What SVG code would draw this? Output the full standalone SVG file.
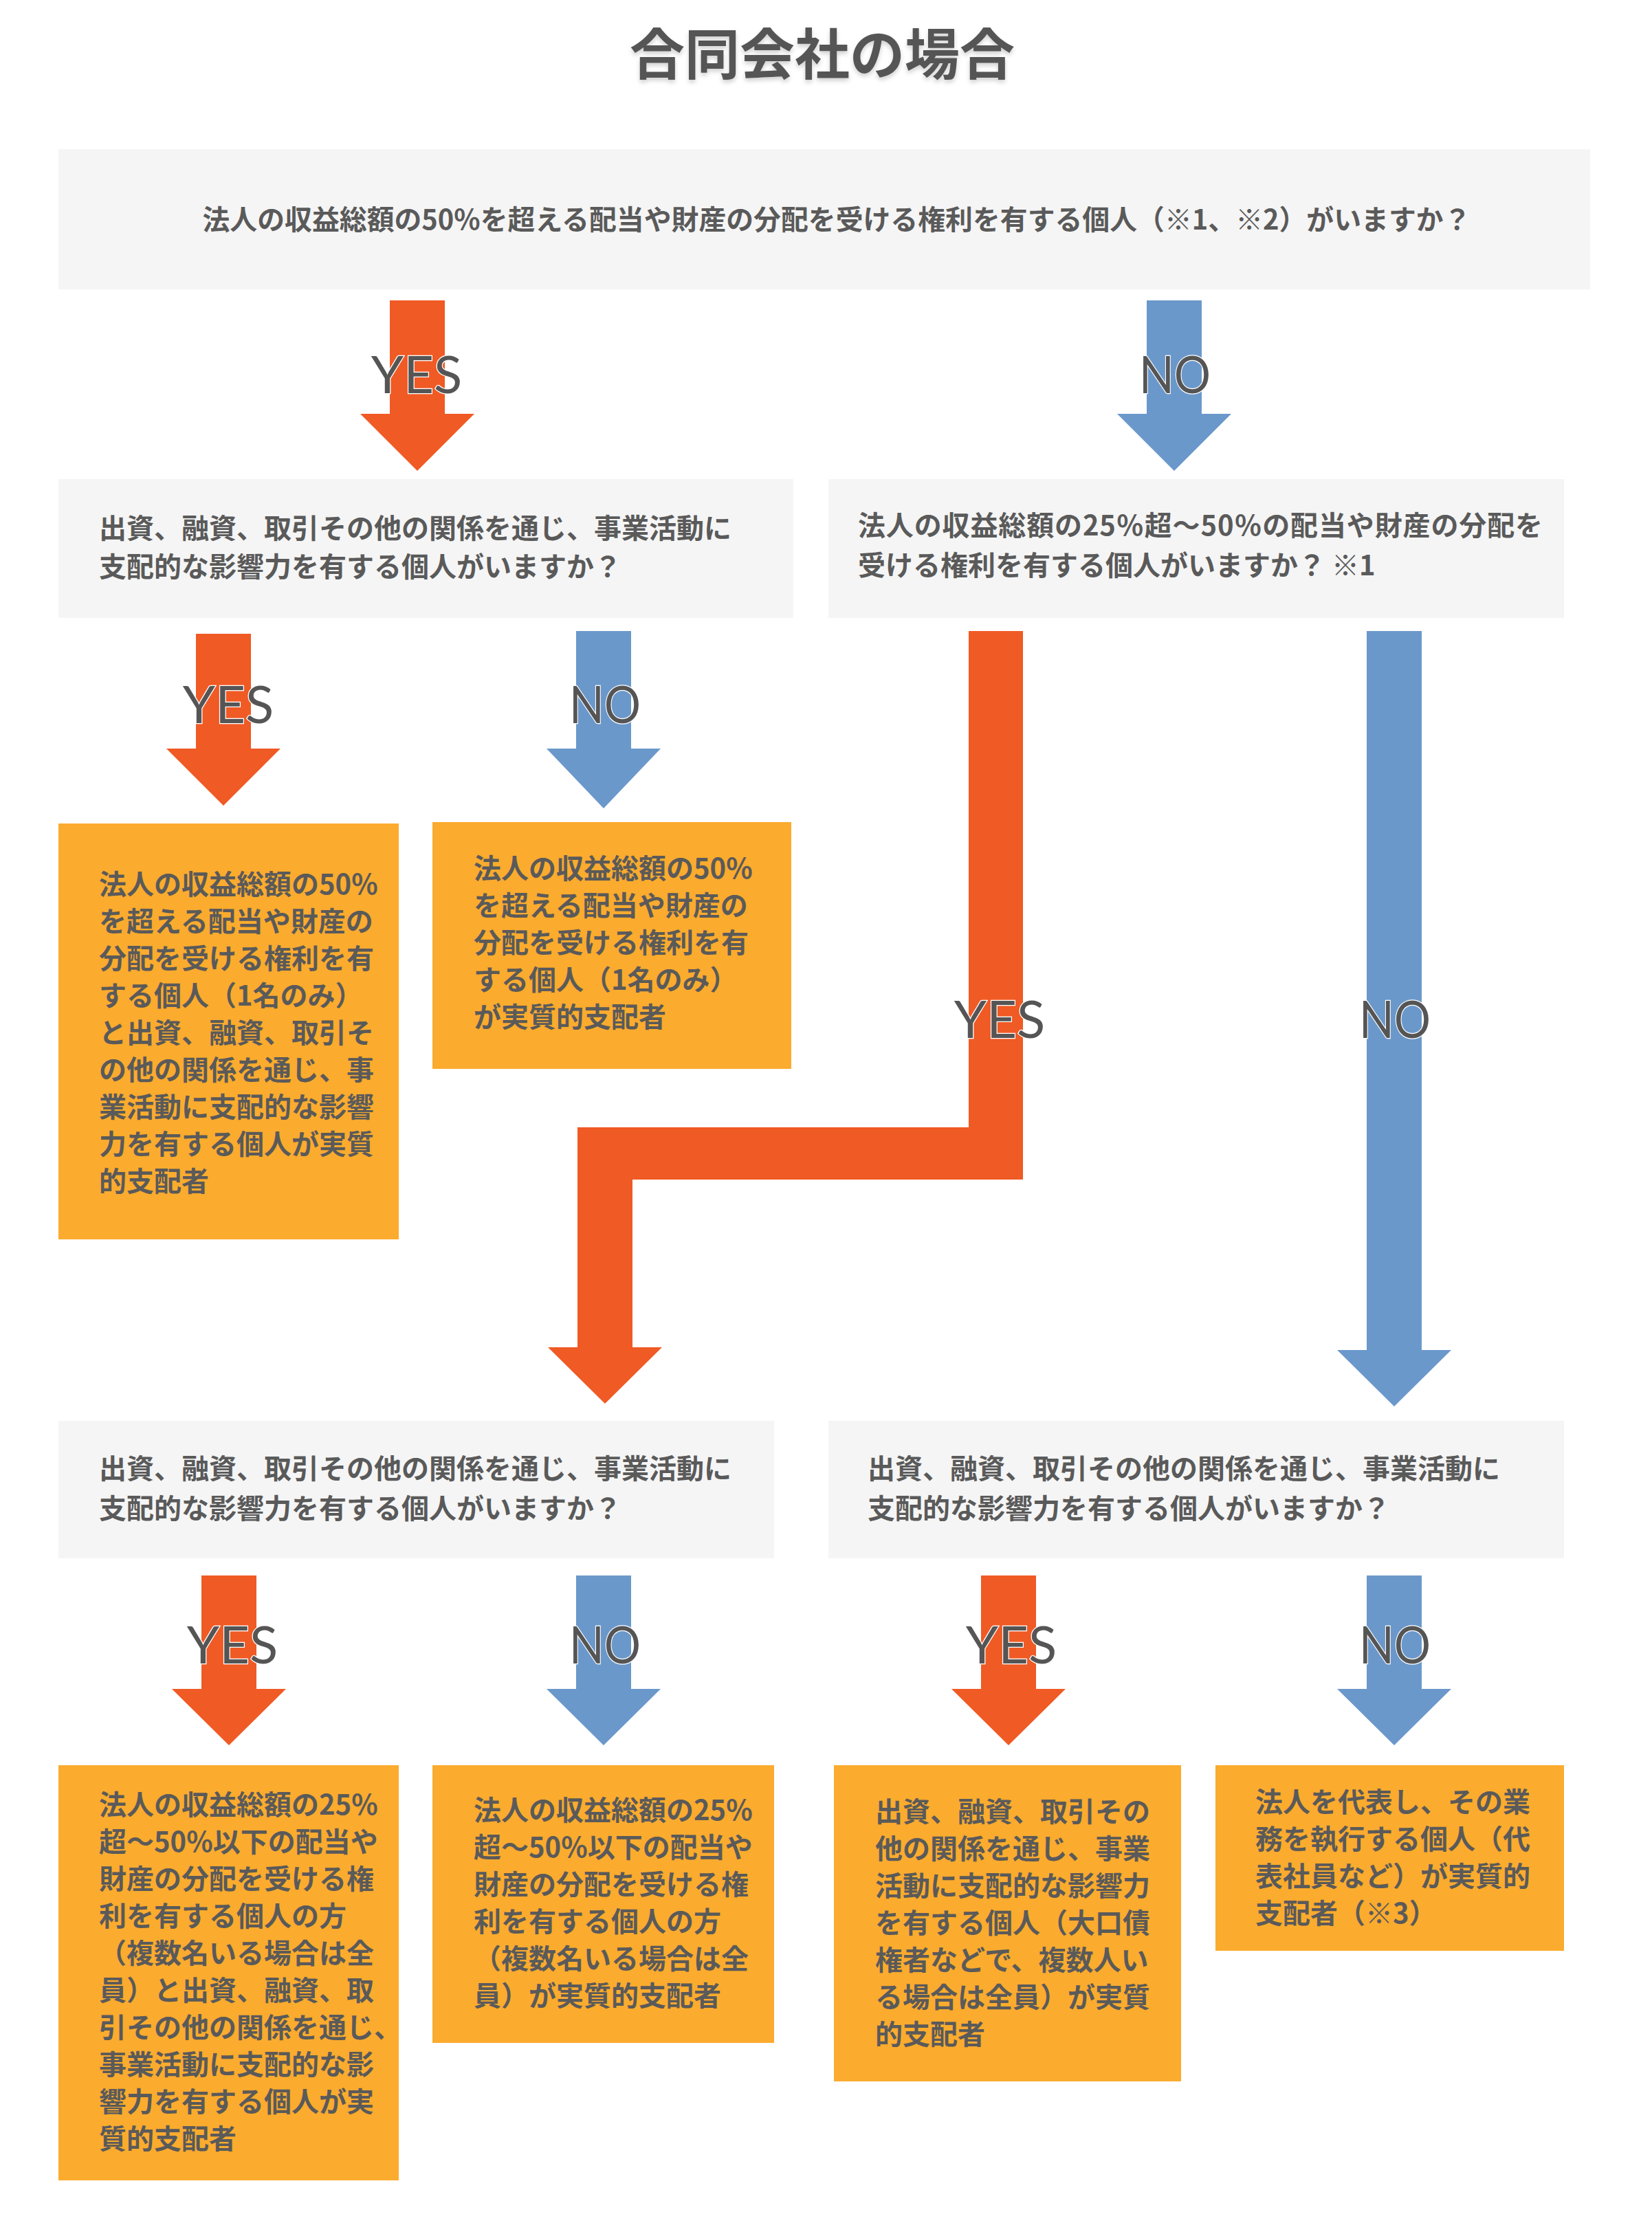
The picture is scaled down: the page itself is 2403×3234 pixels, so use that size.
<svg xmlns="http://www.w3.org/2000/svg" width="2403" height="3234" viewBox="0 0 2403 3234">
<defs>
<style>
.q{fill:#f5f5f5}
.r{fill:#fbab2e}
.t{font-family:"Noto Sans CJK JP","Noto Sans CJK SC",sans-serif;font-weight:700;font-size:40px;fill:#5a5a5a}
.ti{font-family:"Noto Sans CJK JP",sans-serif;font-weight:700;font-size:80px;fill:#555}
.ay{fill:#f05a24}
.an{fill:#6b98cb}
.lb{font-family:Lato,"Open Sans",sans-serif;font-size:76px;fill:#555;stroke:#fff;stroke-width:2.5px;paint-order:stroke;text-anchor:middle}
</style>
<filter id="sh" x="-5%" y="-20%" width="110%" height="150%">
<feDropShadow dx="0" dy="4" stdDeviation="3" flood-color="#000" flood-opacity="0.18"/>
</filter>
</defs>
<rect width="2403" height="3234" fill="#fff"/>
<g id="title"><text class="ti" x="1196" y="108" text-anchor="middle" filter="url(#sh)">合同会社の場合</text></g>

<g id="q1"><rect class="q" x="85" y="217" width="2228" height="204"/>
<text class="t" x="1217" y="334" text-anchor="middle" textLength="1845" lengthAdjust="spacingAndGlyphs">法人の収益総額の50%を超える配当や財産の分配を受ける権利を有する個人（※1、※2）がいますか？</text></g>

<g id="q2"><rect class="q" x="85" y="697" width="1069" height="202"/>
<text class="t" x="144" y="783">出資、融資、取引その他の関係を通じ、事業活動に<tspan x="144" dy="56">支配的な影響力を有する個人がいますか？</tspan></text></g>

<g id="q3"><rect class="q" x="1205" y="697" width="1070" height="202"/>
<text class="t" x="1248" y="779" textLength="996" lengthAdjust="spacing">法人の収益総額の25％超～50％の配当や財産の分配を</text>
<text class="t" x="1248" y="837">受ける権利を有する個人がいますか？ ※1</text></g>

<g id="r1"><rect class="r" x="85" y="1198" width="495" height="605"/>
<text class="t" x="144" y="1301">法人の収益総額の50%<tspan x="144" dy="54">を超える配当や財産の</tspan><tspan x="144" dy="54">分配を受ける権利を有</tspan><tspan x="144" dy="54">する個人（1名のみ）</tspan><tspan x="144" dy="54">と出資、融資、取引そ</tspan><tspan x="144" dy="54">の他の関係を通じ、事</tspan><tspan x="144" dy="54">業活動に支配的な影響</tspan><tspan x="144" dy="54">力を有する個人が実質</tspan><tspan x="144" dy="54">的支配者</tspan></text></g>

<g id="r2"><rect class="r" x="629" y="1196" width="522" height="359"/>
<text class="t" x="689" y="1278">法人の収益総額の50%<tspan x="689" dy="54">を超える配当や財産の</tspan><tspan x="689" dy="54">分配を受ける権利を有</tspan><tspan x="689" dy="54">する個人（1名のみ）</tspan><tspan x="689" dy="54">が実質的支配者</tspan></text></g>

<g id="q4"><rect class="q" x="85" y="2067" width="1041" height="200"/>
<text class="t" x="144" y="2151">出資、融資、取引その他の関係を通じ、事業活動に<tspan x="144" dy="58">支配的な影響力を有する個人がいますか？</tspan></text></g>

<g id="q5"><rect class="q" x="1205" y="2067" width="1070" height="200"/>
<text class="t" x="1262" y="2151">出資、融資、取引その他の関係を通じ、事業活動に<tspan x="1262" dy="58">支配的な影響力を有する個人がいますか？</tspan></text></g>

<g id="r3"><rect class="r" x="85" y="2568" width="495" height="604"/>
<text class="t" x="144" y="2640">法人の収益総額の25%<tspan x="144" dy="54">超～50%以下の配当や</tspan><tspan x="144" dy="54">財産の分配を受ける権</tspan><tspan x="144" dy="54">利を有する個人の方</tspan><tspan x="144" dy="54">（複数名いる場合は全</tspan><tspan x="144" dy="54">員）と出資、融資、取</tspan><tspan x="144" dy="54">引その他の関係を通じ、</tspan><tspan x="144" dy="54">事業活動に支配的な影</tspan><tspan x="144" dy="54">響力を有する個人が実</tspan><tspan x="144" dy="54">質的支配者</tspan></text></g>

<g id="r4"><rect class="r" x="629" y="2568" width="497" height="404"/>
<text class="t" x="689" y="2648">法人の収益総額の25%<tspan x="689" dy="54">超～50%以下の配当や</tspan><tspan x="689" dy="54">財産の分配を受ける権</tspan><tspan x="689" dy="54">利を有する個人の方</tspan><tspan x="689" dy="54">（複数名いる場合は全</tspan><tspan x="689" dy="54">員）が実質的支配者</tspan></text></g>

<g id="r5"><rect class="r" x="1213" y="2568" width="505" height="460"/>
<text class="t" x="1273" y="2650">出資、融資、取引その<tspan x="1273" dy="54">他の関係を通じ、事業</tspan><tspan x="1273" dy="54">活動に支配的な影響力</tspan><tspan x="1273" dy="54">を有する個人（大口債</tspan><tspan x="1273" dy="54">権者などで、複数人い</tspan><tspan x="1273" dy="54">る場合は全員）が実質</tspan><tspan x="1273" dy="54">的支配者</tspan></text></g>

<g id="r6"><rect class="r" x="1768" y="2568" width="507" height="270"/>
<text class="t" x="1826" y="2636">法人を代表し、その業<tspan x="1826" dy="54">務を執行する個人（代</tspan><tspan x="1826" dy="54">表社員など）が実質的</tspan><tspan x="1826" dy="54">支配者（※3）</tspan></text></g>

<g id="connectors">
<polygon class="ay" points="567,437 647,437 647,602 690,602 607,685 524,602 567,602"/>
<text class="lb" x="606" y="572">YES</text>
<polygon class="an" points="1668,437 1748,437 1748,602 1791,602 1708,685 1625,602 1668,602"/>
<text class="lb" x="1709" y="572" textLength="104" lengthAdjust="spacingAndGlyphs">NO</text>

<polygon class="ay" points="285,922 365,922 365,1089 408,1089 325,1172 242,1089 285,1089"/>
<text class="lb" x="332" y="1052">YES</text>
<polygon class="an" points="838,918 918,918 918,1089 961,1089 878,1176 795,1089 838,1089"/>
<text class="lb" x="880" y="1052" textLength="104" lengthAdjust="spacingAndGlyphs">NO</text>

<polygon class="ay" points="1409,918 1488,918 1488,1716 920,1716 920,1960 963,1960 880,2042 797,1960 840,1960 840,1640 1409,1640"/>
<text class="lb" x="1454" y="1510">YES</text>
<polygon class="an" points="1988,918 2068,918 2068,1964 2111,1964 2028,2046 1945,1964 1988,1964"/>
<text class="lb" x="2029" y="1510" textLength="104" lengthAdjust="spacingAndGlyphs">NO</text>

<polygon class="ay" points="293,2292 373,2292 373,2457 416,2457 333,2539 250,2457 293,2457"/>
<text class="lb" x="338" y="2420">YES</text>
<polygon class="an" points="838,2292 918,2292 918,2457 961,2457 878,2539 795,2457 838,2457"/>
<text class="lb" x="880" y="2420" textLength="104" lengthAdjust="spacingAndGlyphs">NO</text>
<polygon class="ay" points="1427,2292 1507,2292 1507,2457 1550,2457 1467,2539 1384,2457 1427,2457"/>
<text class="lb" x="1471" y="2420">YES</text>
<polygon class="an" points="1988,2292 2068,2292 2068,2457 2111,2457 2028,2539 1945,2457 1988,2457"/>
<text class="lb" x="2029" y="2420" textLength="104" lengthAdjust="spacingAndGlyphs">NO</text>
</g>
</svg>
